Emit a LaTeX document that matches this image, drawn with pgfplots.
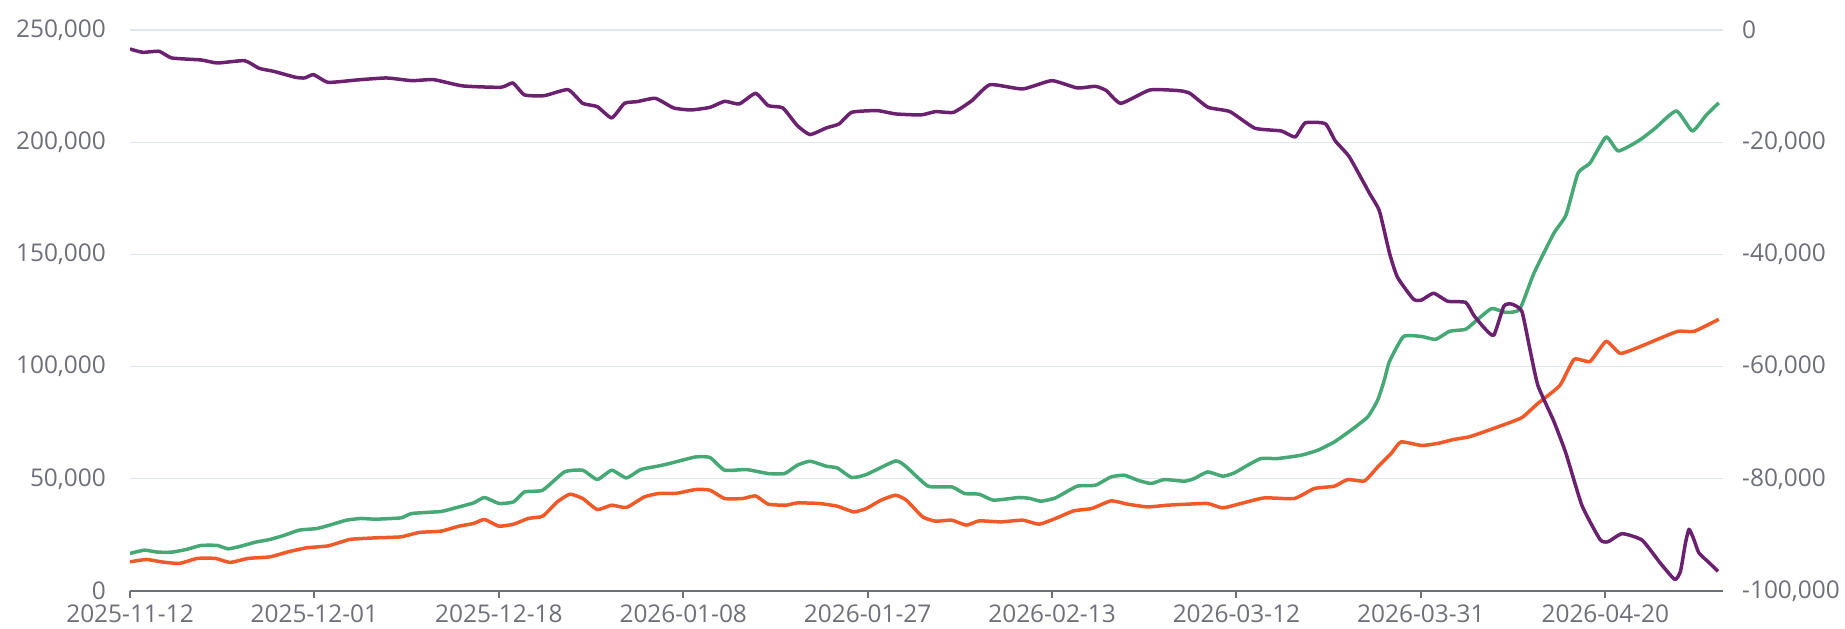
\documentclass[border=0pt]{standalone}
\usepackage{pgfplots}
\pgfplotsset{compat=1.18}
\usepackage{fontspec}
\setmainfont{Open Sans}
\definecolor{lbl}{HTML}{6E7079}
\definecolor{grd}{HTML}{E0E6F1}
\definecolor{cgreen}{HTML}{45A875}
\definecolor{corange}{HTML}{F05A28}
\definecolor{cpurple}{HTML}{6B2170}
\pgfplotsset{
  common/.style={
    scale only axis, width=1593bp, height=561bp,
    at={(0,0)}, anchor=south west,
    xmin=0, xmax=112.3,
    scaled y ticks=false, scaled x ticks=false,
    tick label style={font=\fontsize{24.5}{29}\selectfont, text=lbl},
    y axis line style={draw=none},
    ytick style={draw=none},
    ytick align=inside,
    major tick length=7bp,
  },
  ser/.style={line width=3.5bp, line join=round, smooth, tension=0.3, no markers},
}
\begin{document}
\begin{tikzpicture}
\useasboundingbox (-130bp,-38bp) rectangle (1715bp,591bp);
\begin{axis}[common,
  ymin=0, ymax=250000, ytick={0,50000,100000,150000,200000,250000},
  yticklabels={0,{50,000},{100,000},{150,000},{200,000},{250,000}},
  ymajorgrids, grid style={grd, line width=1.2bp},
  axis x line*=bottom, axis y line*=left,
  x axis line style={lbl, line width=2bp, -},
  xtick={0,13,26,39,52,65,78,91,104},
  xticklabels={2025-11-12,2025-12-01,2025-12-18,2026-01-08,2026-01-27,2026-02-13,2026-03-12,2026-03-31,2026-04-20},
  xtick style={lbl, line width=2bp},
  xtick align=outside,
  xticklabel style={anchor=north, inner sep=0pt, yshift=-7bp},
  yticklabel style={anchor=east, inner sep=0pt, xshift=-24bp},
]
\addplot[ser, cgreen] coordinates {
(0,16740) (1.03,18210) (1.93,17320) (2.95,17320) (3.98,18520) (5.01,20300) (6.15,20300) (6.92,18790) (7.83,19990) (8.85,21770) (9.87,22970) (10.9,24880) (11.92,27110) (13.2,27870) (14.23,29650) (15.26,31560) (16.28,32320) (17.31,32010) (19.1,32590) (19.87,34540) (21.92,35430) (22.94,37040) (24.22,39260) (24.99,41670) (26.01,39000) (27.04,39710) (27.81,44160) (29.09,44920) (30.63,53070) (31.91,53820) (32.94,49680) (33.96,53820) (34.99,50390) (36.01,54130) (37.29,55740) (38.14,57000) (39.87,59740) (40.89,59470) (41.92,53820) (43.45,54130) (44.99,52350) (46.15,52350) (47.04,56050) (47.94,57830) (49.09,55600) (49.86,54840) (50.88,50570) (51.91,51910) (53.97,57960) (54.73,55290) (56.27,46700) (57.93,46390) (58.83,43450) (59.86,43140) (60.88,40470) (62.68,41670) (63.45,41220) (64.22,40020) (65.24,41490) (66.77,46700) (68.06,47140) (69.16,50840) (70.1,51590) (71.04,49370) (71.98,47900) (72.92,49680) (74.33,48920) (75.03,50120) (75.97,53070) (77.03,51150) (77.85,52620) (78.79,56050) (79.73,59030) (80.91,59030) (82.55,60500) (83.73,62720) (84.9,66430) (86.07,71630) (87.25,77550) (87.95,84980) (88.42,93880) (88.79,102340) (89.78,113420) (91.05,113420) (92.04,112140) (93.03,115750) (94.16,116630) (95.01,121080) (96.0,125890) (96.99,124110) (97.97,125530) (98.97,141600) (100.38,159460) (101.23,167510) (102.08,186250) (102.93,190710) (104.06,202330) (104.91,196090) (106.33,200550) (107.46,205890) (109.01,213950) (110.14,205000) (111.13,212170) (112,217510)
};
\addplot[ser, corange] coordinates {
(0,13000) (1.16,14060) (2.19,13000) (3.47,12280) (4.74,14510) (6.03,14510) (7.05,12730) (8.33,14510) (9.87,15220) (11.15,17450) (12.44,19230) (13.97,20120) (15.51,22970) (17.31,23680) (19.1,24130) (20.38,26090) (21.92,26670) (23.2,28890) (24.22,30090) (24.99,31870) (26.01,28890) (27.04,29780) (28.07,32320) (29.09,33340) (30.12,39710) (31.01,43140) (31.91,41220) (32.94,36320) (33.96,38240) (34.99,37210) (36.26,41940) (37.29,43450) (38.49,43500) (39.87,45220) (40.89,44920) (41.92,41220) (43.2,41220) (44.1,42380) (44.99,38690) (46.27,38240) (47.04,39260) (48.58,39000) (49.86,37790) (51.02,35260) (51.91,36770) (52.94,40470) (53.97,42690) (54.73,40470) (55.88,33030) (56.79,31120) (57.93,31560) (58.96,29340) (59.86,31250) (61.4,30800) (62.93,31560) (64.08,29780) (65.24,32320) (66.52,35700) (67.8,36770) (69.16,40170) (70.33,38690) (71.74,37480) (73.15,38240) (74.56,38690) (75.97,39000) (77.03,37040) (78.32,39000) (79.96,41490) (82.08,41220) (83.49,45670) (84.9,46700) (85.84,49680) (87.02,49060) (87.96,55290) (88.9,61250) (89.6,66430) (91.05,64860) (92.18,65750) (93.31,67530) (94.45,68770) (96.71,73760) (98.13,77320) (99.25,83600) (100.8,91610) (101.8,103230) (102.93,102340) (104.06,111240) (105.05,105900) (106.33,108580) (108.02,113030) (109.15,115750) (110.28,115750) (112,121080)
};
\end{axis}
\begin{axis}[common,
  ymin=-100000, ymax=0, ytick={-100000,-80000,-60000,-40000,-20000,0},
  yticklabels={{-100,000},{-80,000},{-60,000},{-40,000},{-20,000},0},
  axis y line*=right, hide x axis,
  yticklabel style={anchor=west, inner sep=0pt, xshift=19bp},
]
\addplot[ser, cpurple] coordinates {
(0,-3390) (0.9,-3980) (2.06,-3800) (2.95,-4990) (5.01,-5340) (6.16,-5880) (8.08,-5470) (9.1,-6830) (10.13,-7370) (11.67,-8430) (12.31,-8550) (12.95,-7960) (13.97,-9330) (16.02,-8900) (18.08,-8550) (19.87,-9030) (21.4,-8850) (23.46,-9970) (26.15,-10210) (26.99,-9440) (27.81,-11570) (29.22,-11700) (30.88,-10630) (31.91,-13070) (32.94,-13660) (33.96,-15670) (34.86,-13070) (35.76,-12770) (37.04,-12180) (38.32,-13890) (39.55,-14250) (40.9,-13780) (41.92,-12710) (42.95,-13180) (44.1,-11290) (44.99,-13480) (46.02,-13890) (47.04,-17040) (47.94,-18640) (49.09,-17450) (49.99,-16740) (50.88,-14670) (52.68,-14370) (53.97,-14960) (55.76,-15140) (56.79,-14550) (58.06,-14670) (59.35,-12590) (60.63,-9740) (62.93,-10510) (64.98,-9030) (66.77,-10330) (68.06,-10040) (68.83,-10810) (69.85,-13070) (71.9,-10690) (73.95,-10810) (74.72,-11290) (76.0,-13780) (77.54,-14550) (79.3,-17500) (81.16,-18000) (82.14,-19070) (82.85,-16560) (84.26,-16700) (84.97,-19780) (85.96,-22630) (87.37,-29060) (88.08,-32280) (88.79,-39780) (89.35,-44070) (90.48,-47990) (91.05,-48130) (91.9,-46920) (92.89,-48350) (94.16,-48560) (94.73,-50850) (95.43,-52990) (96.14,-54420) (96.85,-49220) (97.41,-48860) (98.12,-50140) (98.69,-56930) (99.25,-63350) (100.38,-69780) (101.23,-75490) (102.36,-84780) (103.64,-90850) (104.2,-91210) (105.19,-89780) (106.6,-90940) (107.9,-95090) (108.9,-97940) (109.3,-96500) (109.65,-91500) (109.9,-89000) (110.2,-90500) (110.6,-93200) (111.3,-94900) (111.95,-96500)
};
\end{axis}
\end{tikzpicture}
\end{document}
